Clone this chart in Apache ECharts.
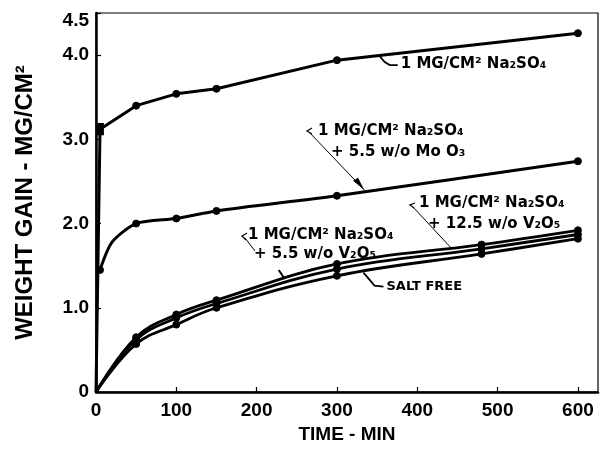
<!DOCTYPE html>
<html><head><meta charset="utf-8">
<script src="https://cdn.jsdelivr.net/npm/echarts@6/dist/echarts.min.js"></script>
<style>html,body{margin:0;padding:0;background:#fff}#c{width:601px;height:449px}</style>
</head><body><div id="c"></div>
<script>
// ---- data ----
const xTicks = [0, 100, 200, 300, 400, 500, 600];
const yTicks = [0, 1, 2, 3, 4, 4.5];
const yTickLabels = ['0', '1.0', '2.0', '3.0', '4.0', '4.5'];

// 1 MG/CM2 Na2SO4
const tNa = [0, 5, 50, 100, 150, 300, 600];
const vNa = [0, 3.12, 3.40, 3.54, 3.60, 3.94, 4.26];
// 1 MG/CM2 Na2SO4 + 5.5 w/o MoO3
const tMo = [5, 20, 50, 100, 150, 300, 600];
const vMo = [1.45, 1.78, 2.00, 2.06, 2.15, 2.33, 2.74];
// bottom bundle
const tV = [0, 50, 100, 150, 300, 480, 600];
const vV12 = [0, 0.65, 0.92, 1.09, 1.52, 1.75, 1.92];   // + 12.5 w/o V2O5
const vV55 = [0, 0.62, 0.88, 1.05, 1.46, 1.70, 1.87];   // + 5.5 w/o V2O5
const vSalt = [0, 0.57, 0.80, 1.00, 1.38, 1.64, 1.82];  // salt free

const FONT = 'Liberation Sans';
const AFONT = 'DejaVu Sans';

function pairs(t, v, noMark, special) {
  return t.map((x, i) => {
    const it = { value: [x, v[i]] };
    if (noMark && noMark.indexOf(x) >= 0) it.symbol = 'none';
    if (special && special[x]) Object.assign(it, special[x]);
    return it;
  });
}

function lineSeries(name, data, width, smooth) {
  return {
    name, type: 'line', data, smooth: smooth,
    symbol: 'circle', symbolSize: 7,
    lineStyle: { color: '#000', width: width },
    itemStyle: { color: '#000', borderColor: '#000', borderWidth: 1 },
    animation: false, z: 3
  };
}

const chart = echarts.init(document.getElementById('c'), null, { renderer: 'canvas' });
const option = {
  backgroundColor: '#fff',
  animation: false,
  grid: { left: 96, right: 3, top: 13, bottom: 53, show: true, borderColor: '#000', borderWidth: 1.2, backgroundColor: 'transparent' },
  xAxis: {
    type: 'value', min: 0, max: 625, interval: 100,
    name: 'TIME - MIN', nameLocation: 'middle', nameGap: 33,
    nameTextStyle: { fontFamily: FONT, fontWeight: 'bold', fontSize: 19, color: '#000' },
    axisLine: { show: true, lineStyle: { color: '#000', width: 2.5 } },
    axisTick: { show: true, inside: true, length: 5, lineStyle: { color: '#000', width: 1.2 } },
    axisLabel: {
      showMaxLabel: false, margin: 9, color: '#000', fontFamily: FONT, fontWeight: 'bold', fontSize: 19,
      formatter: v => (xTicks.indexOf(v) >= 0 ? String(v) : '')
    },
    splitLine: { show: false }
  },
  yAxis: {
    type: 'value', min: 0, max: 4.5, interval: 1,
    name: 'WEIGHT GAIN - MG/CM²', nameLocation: 'middle', nameGap: 59,
    nameTextStyle: { fontFamily: FONT, fontWeight: 'bold', fontSize: 24, color: '#000' },
    axisLine: { show: true, lineStyle: { color: '#000', width: 2.5 } },
    axisTick: { show: true, inside: true, length: 5, lineStyle: { color: '#000', width: 1.2 } },
    axisLabel: {
      showMaxLabel: true, margin: 7, color: '#000', fontFamily: FONT, fontWeight: 'bold', fontSize: 19,
      formatter: v => {
        const i = yTicks.findIndex(t => Math.abs(t - v) < 1e-6);
        if (i < 0) return '';
        return i === yTicks.length - 1 ? '{top|' + yTickLabels[i] + '}' : yTickLabels[i];
      },
      rich: { top: { fontFamily: FONT, fontWeight: 'bold', fontSize: 19, color: '#000', padding: [16, 0, 0, 0] } }
    },
    splitLine: { show: false }
  },
  series: [
    lineSeries('1 MG/CM² Na₂SO₄', pairs(tNa, vNa, [0], { 5: { symbol: 'rect', symbolSize: [7, 11] } }), 3, false),
    lineSeries('1 MG/CM² Na₂SO₄ + 5.5 w/o MoO₃', pairs(tMo, vMo, [20]), 3, 0.25),
    lineSeries('1 MG/CM² Na₂SO₄ + 12.5 w/o V₂O₅', pairs(tV, vV12, [0]), 2.8, 0.4),
    lineSeries('1 MG/CM² Na₂SO₄ + 5.5 w/o V₂O₅', pairs(tV, vV55, [0]), 2.8, 0.4),
    lineSeries('SALT FREE', pairs(tV, vSalt, [0]), 2.8, 0.4)
  ]
};
chart.setOption(option);

// ---- annotations (labels with leader lines) ----
const px = (t, v) => chart.convertToPixel({ gridIndex: 0 }, [t, v]);
function txt(x, y, s, size) {
  return { type: 'text', x, y, z: 10, style: { text: s, fill: '#000', font: 'bold ' + (size || 15) + 'px "' + AFONT + '"', textAlign: 'left', textVerticalAlign: 'middle' } };
}
function pl(points, w) {
  return { type: 'polyline', z: 10, shape: { points }, style: { stroke: '#000', lineWidth: w || 1, fill: null } };
}
const g = [];
// 1: top curve
let p = px(352, 4.0);
g.push(pl([[p[0], p[1]], [p[0] + 6, p[1] + 7], [p[0] + 11, p[1] + 10], [p[0] + 19, p[1] + 10]], 1.8));
g.push(txt(p[0] + 22, p[1] + 9, '1 MG/CM² Na₂SO₄'));
// 2: MoO3
p = px(335, 2.378);
g.push(pl([[309, 132], [p[0], p[1] - 1]], 1));
g.push(pl([[312, 128], [307, 131], [312, 134]], 1.2));
g.push({ type: 'polygon', z: 10, shape: { points: [[p[0] - 12, p[1] - 11], [p[0] - 7, p[1] - 14], [p[0] - 1, p[1] - 2]] }, style: { fill: '#000' } });
g.push(txt(318, 131, '1 MG/CM² Na₂SO₄'));
g.push(txt(331, 152, '+ 5.5 w/o Mo O₃'));
// 3: 12.5 V2O5
p = px(442, 1.70);
g.push(pl([[413, 207], [p[0], p[1] - 1]], 1));
g.push(pl([[415, 203], [410, 205], [414, 208]], 1.2));
g.push(txt(419, 203, '1 MG/CM² Na₂SO₄'));
g.push(txt(428, 224, '+ 12.5 w/o V₂O₅'));
// 4: 5.5 V2O5
p = px(235, 1.33);
g.push(pl([[245, 238], [255, 251]], 1));
g.push(pl([[247, 233], [242, 236], [246, 240]], 1.2));
g.push(pl([[p[0] - 6, p[1] - 10], [p[0], p[1] - 1]], 2));
g.push(txt(248, 235, '1 MG/CM² Na₂SO₄'));
g.push(txt(254, 254, '+ 5.5 w/o V₂O₅'));
// 5: salt free
p = px(333, 1.43);
g.push(pl([[p[0], p[1] + 1], [p[0] + 6, p[1] + 8], [p[0] + 11, p[1] + 14], [p[0] + 20, p[1] + 15]], 1.8));
g.push(txt(p[0] + 23, p[1] + 15, 'SALT FREE', 13));
chart.setOption({ graphic: g });
</script>
</body></html>
